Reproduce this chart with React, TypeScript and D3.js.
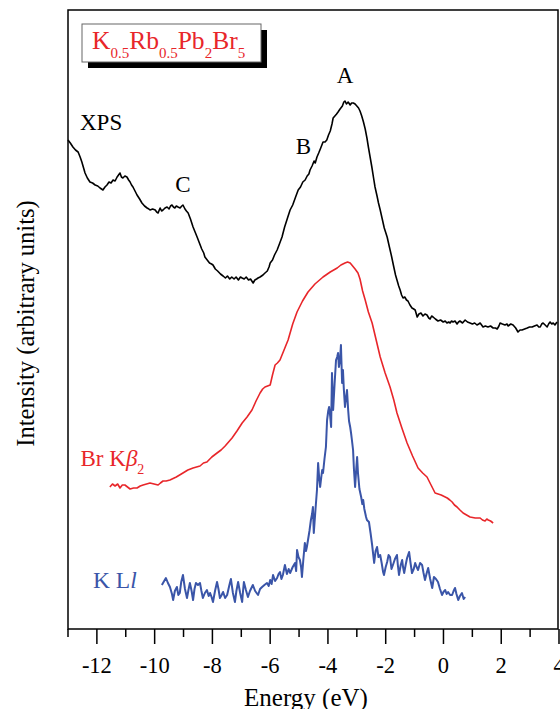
import React from "react";
import * as d3 from "d3";

const xpsData: [number, number][] = [
[-13.00,489],[-12.92,486],[-12.83,482],[-12.74,479],[-12.65,477],[-12.58,472],[-12.52,467],[-12.46,461],[-12.41,456],[-12.33,451],[-12.24,447],[-12.15,446],[-12.06,444],[-11.97,443],[-11.89,441],[-11.79,439],[-11.72,442],[-11.65,444],[-11.58,447],[-11.51,446],[-11.44,449],[-11.37,448],[-11.30,452],[-11.25,454],[-11.20,456],[-11.15,452],[-11.10,451],[-11.03,453],[-10.96,452],[-10.90,449],[-10.85,447],[-10.80,444],[-10.75,442],[-10.68,438],[-10.61,434],[-10.52,430],[-10.44,426],[-10.35,423],[-10.26,421],[-10.20,420],[-10.16,419],[-10.07,420],[-9.98,419],[-9.93,417],[-9.88,416],[-9.84,419],[-9.81,421],[-9.76,418],[-9.71,419],[-9.64,421],[-9.57,422],[-9.50,420],[-9.45,423],[-9.40,424],[-9.35,422],[-9.30,421],[-9.25,423],[-9.19,422],[-9.12,421],[-9.06,423],[-9.02,424],[-8.95,420],[-8.90,418],[-8.84,416],[-8.76,410],[-8.67,402],[-8.60,397],[-8.53,392],[-8.45,386],[-8.37,380],[-8.30,376],[-8.26,372],[-8.18,369],[-8.10,366],[-8.03,365],[-7.98,364],[-7.90,360],[-7.82,358],[-7.72,355],[-7.63,353],[-7.55,351],[-7.48,353],[-7.40,350],[-7.33,352],[-7.25,350],[-7.18,352],[-7.10,349],[-7.03,352],[-6.97,351],[-6.90,350],[-6.83,352],[-6.75,349],[-6.68,350],[-6.59,346],[-6.53,349],[-6.47,350],[-6.42,351],[-6.35,352],[-6.25,354],[-6.18,356],[-6.10,358],[-6.04,362],[-6.00,366],[-5.92,369],[-5.85,374],[-5.76,379],[-5.68,385],[-5.59,392],[-5.50,402],[-5.40,411],[-5.31,419],[-5.22,424],[-5.12,432],[-5.03,439],[-4.95,442],[-4.87,447],[-4.79,449],[-4.72,453],[-4.66,455],[-4.62,459],[-4.55,463],[-4.48,468],[-4.44,466],[-4.38,472],[-4.32,476],[-4.25,481],[-4.17,487],[-4.10,487],[-4.04,489],[-3.98,494],[-3.92,498],[-3.86,505],[-3.82,511],[-3.76,513],[-3.70,515],[-3.65,517],[-3.58,520],[-3.50,523],[-3.45,527],[-3.41,528],[-3.36,525],[-3.30,527],[-3.23,524],[-3.18,526],[-3.12,526],[-3.06,525],[-3.00,523],[-2.94,521],[-2.89,518],[-2.83,513],[-2.77,507],[-2.71,500],[-2.65,491],[-2.60,482],[-2.54,472],[-2.48,462],[-2.42,451],[-2.37,442],[-2.30,433],[-2.25,426],[-2.19,419],[-2.12,410],[-2.05,401],[-1.95,392],[-1.88,383],[-1.80,373],[-1.72,362],[-1.66,354],[-1.61,349],[-1.55,343],[-1.50,339],[-1.45,334],[-1.40,331],[-1.34,332],[-1.28,329],[-1.23,328],[-1.16,324],[-1.09,321],[-1.03,320],[-0.98,319],[-0.91,312],[-0.85,315],[-0.78,316],[-0.71,313],[-0.64,315],[-0.57,314],[-0.51,311],[-0.46,310],[-0.41,313],[-0.36,312],[-0.28,310],[-0.19,308],[-0.10,309],[-0.01,307],[0.06,308],[0.12,306],[0.18,307],[0.23,306],[0.28,308],[0.33,307],[0.40,308],[0.47,305],[0.52,307],[0.57,308],[0.66,306],[0.75,309],[0.83,307],[0.92,306],[1.00,305],[1.08,306],[1.16,304],[1.22,305],[1.27,306],[1.32,304],[1.37,302],[1.45,303],[1.54,302],[1.63,303],[1.72,301],[1.80,301],[1.86,300],[1.92,303],[1.96,306],[2.04,305],[2.13,304],[2.20,305],[2.24,303],[2.33,305],[2.41,304],[2.50,301],[2.58,297],[2.65,299],[2.72,299],[2.81,300],[2.90,301],[2.98,302],[3.07,302],[3.15,303],[3.24,304],[3.30,302],[3.35,302],[3.40,305],[3.45,306],[3.52,304],[3.59,302],[3.64,305],[3.69,307],[3.75,305],[3.80,306],[3.86,304],[3.93,307]
];

const brData: [number, number][] = [
[-11.55,142],[-11.46,145],[-11.37,143],[-11.28,145],[-11.20,141],[-11.12,144],[-11.03,144],[-10.94,142],[-10.85,140],[-10.73,141],[-10.61,141],[-10.50,143],[-10.40,144],[-10.28,145],[-10.16,146],[-10.02,145],[-9.88,144],[-9.80,146],[-9.71,148],[-9.60,148],[-9.47,149],[-9.25,152],[-9.02,156],[-8.85,159],[-8.67,161],[-8.55,162],[-8.43,163],[-8.31,166],[-8.19,167],[-8.02,172],[-7.84,176],[-7.70,179],[-7.56,183],[-7.44,187],[-7.32,191],[-7.15,198],[-6.97,206],[-6.80,212],[-6.63,219],[-6.49,228],[-6.35,236],[-6.26,240],[-6.18,242],[-6.09,243],[-6.00,244],[-5.92,254],[-5.83,264],[-5.75,266],[-5.66,269],[-5.52,279],[-5.38,289],[-5.22,305],[-5.07,317],[-4.88,328],[-4.69,337],[-4.45,345],[-4.17,352],[-3.92,357],[-3.68,361],[-3.55,364],[-3.41,366],[-3.32,367],[-3.23,366],[-3.06,360],[-2.96,356],[-2.89,350],[-2.80,338],[-2.71,329],[-2.60,317],[-2.47,306],[-2.33,289],[-2.19,272],[-2.02,256],[-1.85,242],[-1.72,229],[-1.61,216],[-1.44,201],[-1.26,186],[-1.07,173],[-0.88,161],[-0.72,156],[-0.57,152],[-0.43,144],[-0.29,136],[-0.08,134],[0.13,131],[0.22,129],[0.30,127],[0.38,124],[0.47,122],[0.57,119],[0.68,116],[0.80,114],[0.92,112],[1.10,111],[1.27,111],[1.35,109],[1.44,108],[1.50,110],[1.55,109],[1.63,108],[1.72,106]
];

const kllData: [number, number][] = [
[-9.75,44],[-9.61,51],[-9.54,46],[-9.47,42],[-9.40,35],[-9.36,29],[-9.30,38],[-9.23,42],[-9.18,34],[-9.13,36],[-9.08,47],[-9.02,54],[-8.95,40],[-8.88,31],[-8.83,39],[-8.78,46],[-8.72,38],[-8.67,29],[-8.62,40],[-8.57,46],[-8.50,44],[-8.43,46],[-8.38,38],[-8.33,31],[-8.26,36],[-8.19,39],[-8.13,33],[-8.08,36],[-8.03,32],[-7.98,27],[-7.91,38],[-7.84,47],[-7.79,40],[-7.74,31],[-7.68,34],[-7.63,37],[-7.56,31],[-7.49,34],[-7.42,43],[-7.36,50],[-7.29,36],[-7.22,27],[-7.17,38],[-7.11,47],[-7.04,36],[-6.97,27],[-6.94,38],[-6.91,47],[-6.84,39],[-6.77,32],[-6.70,38],[-6.60,44],[-6.52,38],[-6.42,34],[-6.35,40],[-6.28,42],[-6.20,44],[-6.11,46],[-6.05,43],[-6.00,49],[-5.95,45],[-5.90,54],[-5.83,48],[-5.76,51],[-5.71,55],[-5.66,57],[-5.61,50],[-5.56,54],[-5.49,64],[-5.42,55],[-5.36,60],[-5.31,56],[-5.22,62],[-5.14,66],[-5.10,58],[-5.07,79],[-5.02,72],[-4.97,69],[-4.93,62],[-4.90,52],[-4.85,70],[-4.80,86],[-4.76,78],[-4.73,82],[-4.69,89],[-4.64,98],[-4.59,109],[-4.55,115],[-4.52,122],[-4.49,96],[-4.43,120],[-4.38,139],[-4.34,166],[-4.30,150],[-4.27,142],[-4.23,152],[-4.20,159],[-4.17,156],[-4.12,170],[-4.07,182],[-4.03,209],[-3.99,218],[-3.96,222],[-3.92,212],[-3.89,202],[-3.86,256],[-3.84,236],[-3.82,219],[-3.77,245],[-3.72,269],[-3.68,272],[-3.65,276],[-3.62,262],[-3.58,270],[-3.55,284],[-3.51,246],[-3.48,259],[-3.45,240],[-3.41,222],[-3.37,232],[-3.34,239],[-3.30,219],[-3.27,208],[-3.23,202],[-3.20,196],[-3.17,189],[-3.13,179],[-3.10,160],[-3.06,142],[-3.02,160],[-2.99,172],[-2.96,156],[-2.91,140],[-2.85,132],[-2.81,125],[-2.78,129],[-2.74,120],[-2.71,116],[-2.68,112],[-2.65,109],[-2.58,107],[-2.52,95],[-2.47,84],[-2.40,66],[-2.35,78],[-2.30,82],[-2.25,72],[-2.19,74],[-2.14,66],[-2.09,57],[-2.06,54],[-2.00,62],[-1.95,67],[-1.90,74],[-1.85,72],[-1.80,60],[-1.75,64],[-1.68,70],[-1.61,74],[-1.58,64],[-1.54,54],[-1.48,64],[-1.43,69],[-1.40,62],[-1.36,56],[-1.31,64],[-1.26,71],[-1.19,77],[-1.14,66],[-1.09,56],[-1.03,60],[-0.98,66],[-0.93,62],[-0.88,59],[-0.81,66],[-0.74,64],[-0.69,56],[-0.64,49],[-0.58,56],[-0.53,61],[-0.46,50],[-0.39,41],[-0.33,52],[-0.26,50],[-0.19,47],[-0.12,40],[-0.05,34],[0.00,37],[0.06,39],[0.11,35],[0.16,37],[0.23,34],[0.30,34],[0.35,38],[0.40,41],[0.45,35],[0.51,29],[0.57,33],[0.64,36],[0.70,30],[0.75,32]
];

const majorTicks = [-12, -10, -8, -6, -4, -2, 0, 2, 4];
const minorTicks = [-13, -11, -9, -7, -5, -3, -1, 1, 3];

const SERIF = "'Liberation Serif', 'Times New Roman', Times, serif";
const RED = "#e8262a";
const BLUE = "#3a55a8";

export default function App() {
  const W = 560, H = 709;
  const left = 68, top = 10, right = 558, bottom = 629;
  const x = d3.scaleLinear().domain([-13, 4]).range([left, 559]);
  const y = d3.scaleLinear().domain([0, 619]).range([bottom, top]);
  const line = d3.line<[number, number]>().x(d => x(d[0])).y(d => y(d[1]));

  return (
    <svg width={W} height={H} style={{ position: "absolute", left: 0, top: 0, background: "#fff" }} fontFamily={SERIF}>
      <rect x={0} y={0} width={W} height={H} fill="#fff" />
      {/* frame */}
      <rect x={left} y={top} width={right - left} height={bottom - top} fill="none" stroke="#000" strokeWidth={1.5} />
      {/* ticks */}
      {majorTicks.map(t => (
        <g key={"M" + t}>
          <line x1={x(t)} x2={x(t)} y1={bottom} y2={bottom + 15} stroke="#000" strokeWidth={1.5} />
          <text x={x(t)} y={bottom + 44} textAnchor="middle" fontSize={22.5} fill="#000">{String(t)}</text>
        </g>
      ))}
      {minorTicks.map(t => (
        <line key={"m" + t} x1={x(t)} x2={x(t)} y1={bottom} y2={bottom + 8} stroke="#000" strokeWidth={1.5} />
      ))}
      <text x={306} y={706} textAnchor="middle" fontSize={25} fill="#000">Energy (eV)</text>
      <text transform={`translate(34,${(top + bottom) / 2 + 4}) rotate(-90)`} textAnchor="middle" fontSize={24.5} fill="#000">Intensity (arbitrary units)</text>

      {/* curves */}
      <path d={line(xpsData) || ""} fill="none" stroke="#000" strokeWidth={1.6} strokeLinejoin="round" />
      <path d={line(brData) || ""} fill="none" stroke={RED} strokeWidth={1.6} strokeLinejoin="round" />
      <path d={line(kllData) || ""} fill="none" stroke={BLUE} strokeWidth={2} strokeLinejoin="round" />

      {/* title box */}
      <rect x={88} y={30} width={179} height={38} fill="#000" />
      <rect x={82} y={24} width={179} height={38} fill="#fff" stroke="#666" strokeWidth={1} />
      <text x={92} y={49} fontSize={25.5} fill={RED}>
        <tspan>K</tspan>
        <tspan fontSize={15} dy={9}>0.5</tspan>
        <tspan dy={-9}>Rb</tspan>
        <tspan fontSize={15} dy={9}>0.5</tspan>
        <tspan dy={-9}>Pb</tspan>
        <tspan fontSize={15} dy={9}>2</tspan>
        <tspan dy={-9}>Br</tspan>
        <tspan fontSize={15} dy={9}>5</tspan>
      </text>

      {/* labels */}
      <text x={80} y={130} fontSize={23} fill="#000">XPS</text>
      <text x={183} y={192} textAnchor="middle" fontSize={23} fill="#000">C</text>
      <text x={303.5} y={154} textAnchor="middle" fontSize={23} fill="#000">B</text>
      <text x={345} y={83} textAnchor="middle" fontSize={23} fill="#000">A</text>
      <text x={80.5} y={466} fontSize={23} fill={RED}>
        <tspan>Br K</tspan>
        <tspan fontStyle="italic">β</tspan>
        <tspan fontSize={14} dy={8}>2</tspan>
      </text>
      <text x={93} y={588} fontSize={23.5} fill={BLUE}>
        <tspan>K L</tspan>
        <tspan fontStyle="italic">l</tspan>
      </text>
    </svg>
  );
}
